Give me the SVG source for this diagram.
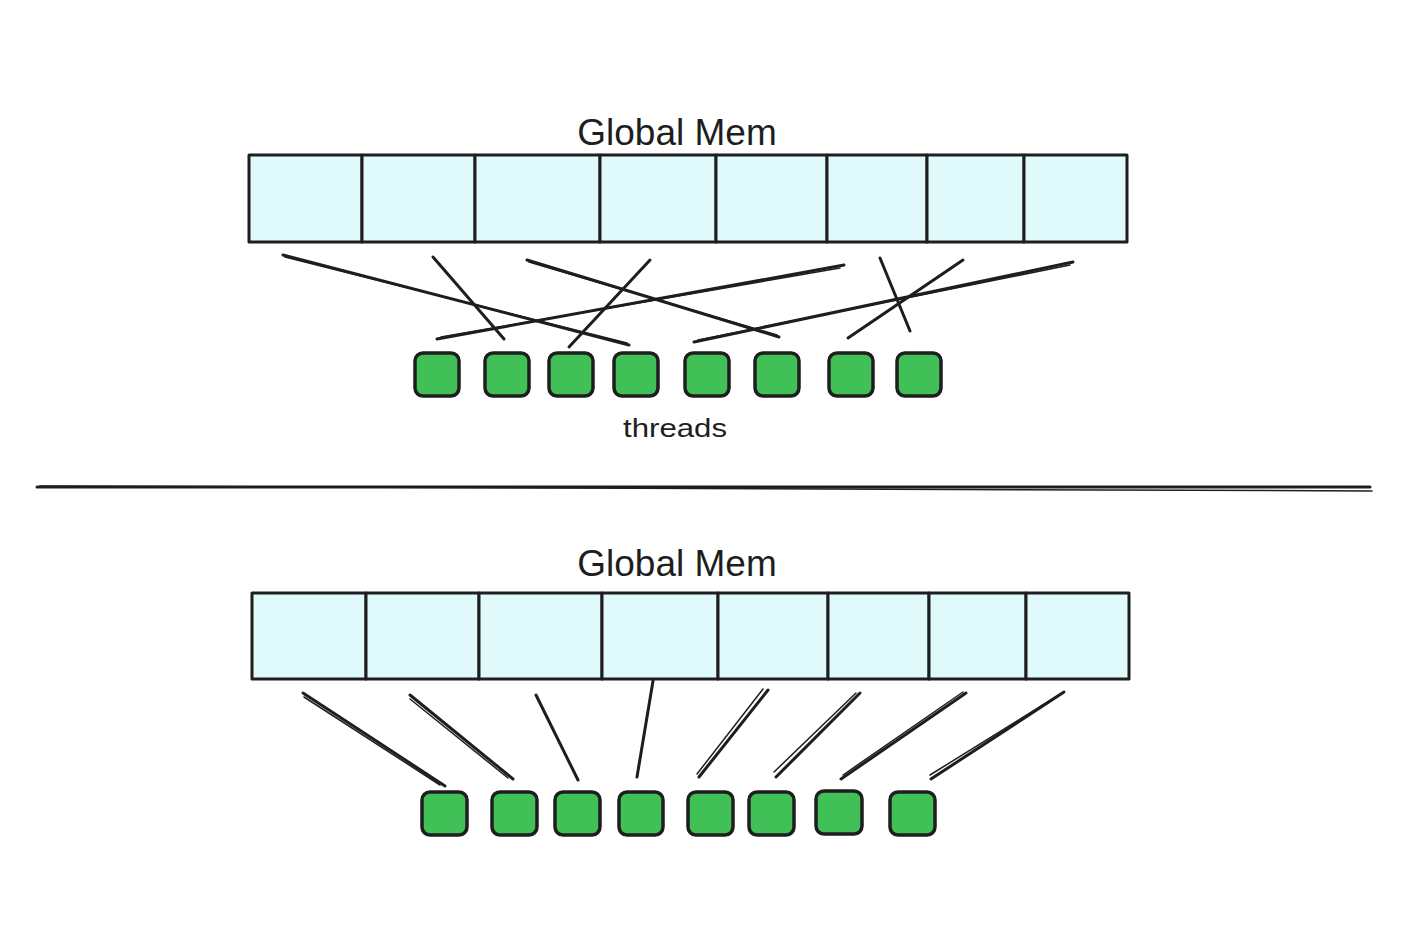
<svg xmlns="http://www.w3.org/2000/svg" width="1404" height="950" viewBox="0 0 1404 950">
<style>
.cell{fill:#e0fafb;stroke:#1e1e1e;stroke-width:3;stroke-linejoin:round}
.thr{fill:#40c057;stroke:#1e1e1e;stroke-width:3.5}
.ln{stroke:#1e1e1e;stroke-width:3;stroke-linecap:round;fill:none}
.ln2{stroke:#1e1e1e;stroke-width:1.5;stroke-linecap:round;fill:none}
.lbl{font-family:"Liberation Sans",Arial,sans-serif;fill:#1e1e1e;text-anchor:middle}
</style>
<rect width="1404" height="950" fill="#ffffff"/>

<g id="top-label"><text class="lbl" x="677" y="145" font-size="37">Global Mem</text></g>
<g id="top-memory">
<g id="tm0"><rect class="cell" x="249" y="155" width="113" height="87"/></g>
<g id="tm1"><rect class="cell" x="362" y="155" width="113" height="87"/></g>
<g id="tm2"><rect class="cell" x="475" y="155" width="125" height="87"/></g>
<g id="tm3"><rect class="cell" x="600" y="155" width="116" height="87"/></g>
<g id="tm4"><rect class="cell" x="716" y="155" width="111" height="87"/></g>
<g id="tm5"><rect class="cell" x="827" y="155" width="100" height="87"/></g>
<g id="tm6"><rect class="cell" x="927" y="155" width="97" height="87"/></g>
<g id="tm7"><rect class="cell" x="1024" y="155" width="103" height="87"/></g>
</g>

<g id="top-threads">
<g id="tt0"><rect class="thr" x="415" y="353" width="44" height="43" rx="8"/></g>
<g id="tt1"><rect class="thr" x="485" y="353" width="44" height="43" rx="8"/></g>
<g id="tt2"><rect class="thr" x="549" y="353" width="44" height="43" rx="8"/></g>
<g id="tt3"><rect class="thr" x="614" y="353" width="44" height="43" rx="8"/></g>
<g id="tt4"><rect class="thr" x="685" y="353" width="44" height="43" rx="8"/></g>
<g id="tt5"><rect class="thr" x="755" y="353" width="44" height="43" rx="8"/></g>
<g id="tt6"><rect class="thr" x="829" y="353" width="44" height="43" rx="8"/></g>
<g id="tt7"><rect class="thr" x="897" y="353" width="44" height="43" rx="8"/></g>
</g>
<g id="threads-label"><text class="lbl" x="675" y="437" font-size="26" textLength="104" lengthAdjust="spacingAndGlyphs">threads</text></g>

<g id="top-connectors">
<path class="ln" d="M283 255 L629 345"/>
<path class="ln2" d="M285 257 L627 343"/>
<path class="ln" d="M433 257 L504 339"/>
<path class="ln" d="M527 260 L779 337"/>
<path class="ln2" d="M529 262 L777 335"/>
<path class="ln" d="M650 260 L569 347"/>
<path class="ln" d="M844 265 L437 339"/>
<path class="ln2" d="M840 268 L441 337"/>
<path class="ln" d="M880 258 L910 331"/>
<path class="ln" d="M963 260 L848 338"/>
<path class="ln" d="M1073 262 L694 342"/>
<path class="ln2" d="M1070 265 L698 340"/>
</g>

<g id="separator">
<path class="ln" d="M37 487 L1370 487"/>
<path class="ln2" d="M40 486 L1372 491"/>
</g>

<g id="bottom-label"><text class="lbl" x="677" y="576" font-size="37">Global Mem</text></g>
<g id="bottom-memory">
<g id="bm0"><rect class="cell" x="252" y="593" width="114" height="86"/></g>
<g id="bm1"><rect class="cell" x="366" y="593" width="113" height="86"/></g>
<g id="bm2"><rect class="cell" x="479" y="593" width="123" height="86"/></g>
<g id="bm3"><rect class="cell" x="602" y="593" width="116" height="86"/></g>
<g id="bm4"><rect class="cell" x="718" y="593" width="110" height="86"/></g>
<g id="bm5"><rect class="cell" x="828" y="593" width="101" height="86"/></g>
<g id="bm6"><rect class="cell" x="929" y="593" width="97" height="86"/></g>
<g id="bm7"><rect class="cell" x="1026" y="593" width="103" height="86"/></g>
</g>

<g id="bottom-threads">
<g id="bt0"><rect class="thr" x="422" y="792" width="45" height="43" rx="8"/></g>
<g id="bt1"><rect class="thr" x="492" y="792" width="45" height="43" rx="8"/></g>
<g id="bt2"><rect class="thr" x="555" y="792" width="45" height="43" rx="8"/></g>
<g id="bt3"><rect class="thr" x="619" y="792" width="44" height="43" rx="8"/></g>
<g id="bt4"><rect class="thr" x="688" y="792" width="45" height="43" rx="8"/></g>
<g id="bt5"><rect class="thr" x="749" y="792" width="45" height="43" rx="8"/></g>
<g id="bt6"><rect class="thr" x="816" y="791" width="46" height="43" rx="8"/></g>
<g id="bt7"><rect class="thr" x="890" y="792" width="45" height="43" rx="8"/></g>
</g>

<g id="bottom-connectors">
<path class="ln" d="M303 693 L445 786"/>
<path class="ln2" d="M304 697 L440 785"/>
<path class="ln" d="M410 695 L513 779"/>
<path class="ln2" d="M410 699 L508 778"/>
<path class="ln" d="M536 695 L578 780"/>
<path class="ln" d="M653 681 L637 777"/>
<path class="ln" d="M768 690 L699 777"/>
<path class="ln2" d="M763 689 L697 774"/>
<path class="ln" d="M860 693 L776 777"/>
<path class="ln2" d="M856 693 L774 772"/>
<path class="ln" d="M966 693 L841 779"/>
<path class="ln2" d="M963 692 L843 775"/>
<path class="ln" d="M1064 692 L931 779"/>
<path class="ln2" d="M1062 693 L930 775"/>
</g>
</svg>
